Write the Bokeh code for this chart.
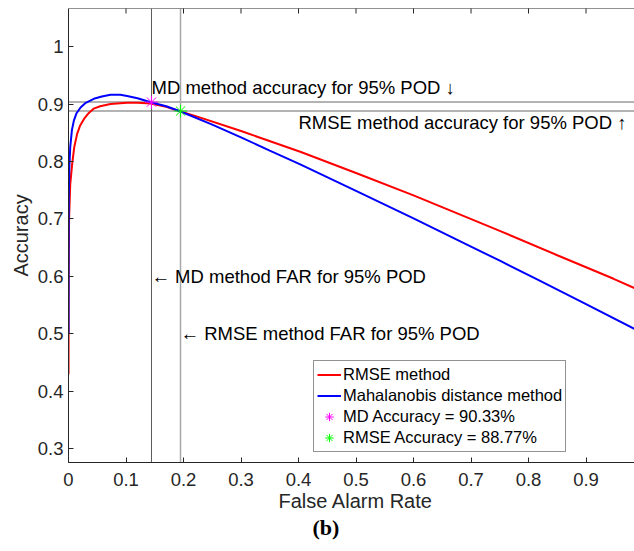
from bokeh.plotting import figure
from bokeh.models import (Range1d, Span, Label, Legend, LegendItem,
                          FixedTicker, CustomJSTickFormatter, Title)
from bokeh.embed import file_html
from bokeh.resources import INLINE
from math import pi

# ---- data ----
far_rmse = [0, 0.0003, 0.001, 0.003, 0.0064, 0.01, 0.015, 0.02, 0.027, 0.035, 0.044,
            0.055, 0.073, 0.09, 0.102, 0.12, 0.143, 0.17, 0.195, 0.224, 0.3, 0.403,
            0.5, 0.6, 0.751, 0.85, 0.948, 0.984]
acc_rmse = [0.43, 0.6, 0.7, 0.76, 0.796, 0.825, 0.848, 0.862, 0.874, 0.884, 0.892,
            0.896, 0.900, 0.9015, 0.902, 0.902, 0.901, 0.895, 0.887, 0.878, 0.853, 0.817,
            0.780, 0.741, 0.679, 0.637, 0.596, 0.580]

far_md = [0, 0.0002, 0.0006, 0.0015, 0.003, 0.006, 0.0093, 0.014, 0.021, 0.03, 0.044,
          0.058, 0.073, 0.09, 0.102, 0.12, 0.143, 0.17, 0.195, 0.25, 0.3, 0.35, 0.403,
          0.5, 0.6, 0.7, 0.751, 0.815, 0.9, 0.984]
acc_md = [0.5, 0.65, 0.74, 0.79, 0.825, 0.855, 0.871, 0.884, 0.894, 0.902, 0.909,
          0.913, 0.916, 0.916, 0.914, 0.910, 0.903, 0.896, 0.887, 0.864, 0.842, 0.819,
          0.795, 0.749, 0.701, 0.652, 0.627, 0.595, 0.552, 0.509]

md_far = [0.1443]
md_acc = [0.9033]
rmse_far = [0.1948]
rmse_acc = [0.8877]

x_ticks = [0, 0.1, 0.2, 0.3, 0.4, 0.5, 0.6, 0.7, 0.8, 0.9]
y_ticks = [0.3, 0.4, 0.5, 0.6, 0.7, 0.8, 0.9, 1.0]

x_label = "False Alarm Rate"
y_label = "Accuracy"
panel_tag = "(b)"
legend_labels = ["RMSE method", "Mahalanobis distance method",
                 "MD Accuracy = 90.33%", "RMSE Accuracy = 88.77%"]

X_MAX = 0.9843
Y_MIN, Y_MAX = 0.2765, 1.0661

FONT = "Liberation Sans"
AX = "#262626"

p = figure(width=634, height=551, x_range=Range1d(0, X_MAX),
           y_range=Range1d(Y_MIN, Y_MAX), output_backend="svg",
           toolbar_location=None, min_border_left=68, min_border_right=0,
           min_border_top=8, min_border_bottom=89)
p.grid.visible = False
p.outline_line_color = None
p.background_fill_color = "white"
p.border_fill_color = "white"

fmt = CustomJSTickFormatter(code="return (Math.round(tick*10)/10).toString();")

for ax in (p.xaxis[0], p.yaxis[0]):
    ax.major_tick_in = 5
    ax.major_tick_out = 0
    ax.minor_tick_line_color = None
    ax.axis_line_color = AX
    ax.major_tick_line_color = AX
    ax.major_label_text_color = AX
    ax.major_label_text_font = FONT
    ax.major_label_text_font_size = "18.5px"
    ax.formatter = fmt

p.xaxis.ticker = FixedTicker(ticks=x_ticks)
p.yaxis.ticker = FixedTicker(ticks=y_ticks)
p.xaxis.major_label_standoff = 10
p.yaxis.major_label_standoff = 5
p.yaxis.axis_label = y_label
p.yaxis.axis_label_text_font = FONT
p.yaxis.axis_label_text_font_size = "20px"
p.yaxis.axis_label_text_font_style = "normal"
p.yaxis.axis_label_text_color = AX
p.yaxis.axis_label_standoff = 3

# top box edge with inward ticks
p.add_layout(Span(location=Y_MAX, dimension="width", line_color=AX, line_width=1))
p.scatter(x_ticks[1:], [Y_MAX] * (len(x_ticks) - 1), marker="dash", angle=pi / 2,
          size=10, line_color=AX, line_width=1)

# reference lines
p.add_layout(Span(location=md_acc[0], dimension="width", line_color="#9a9a9a",
                  line_width=1.5, level="underlay"))
p.add_layout(Span(location=rmse_acc[0], dimension="width", line_color="#9a9a9a",
                  line_width=1.5, level="underlay"))
p.add_layout(Span(location=md_far[0], dimension="height", line_color="#5a5a5a",
                  line_width=1, level="underlay"))
p.add_layout(Span(location=rmse_far[0], dimension="height", line_color="#a8a8a8",
                  line_width=1.5, level="underlay"))

r_rmse = p.line(far_rmse, acc_rmse, line_color="#ff0000", line_width=2)
r_md = p.line(far_md, acc_md, line_color="#0000ff", line_width=2)
s_md = p.scatter(md_far, md_acc, marker="asterisk", size=13, line_color="#ff00ff",
                 line_width=1)
s_rmse = p.scatter(rmse_far, rmse_acc, marker="asterisk", size=13,
                   line_color="#00ff00", line_width=1)

def lab(x, y, t):
    p.add_layout(Label(x=x, y=y, text=t, text_font=FONT, text_font_size="18.5px",
                       text_baseline="middle", text_align="left",
                       text_color="black"))

lab(md_far[0], 0.928, "MD method accuracy for 95% POD \u2193")
lab(0.4, 0.8683, "RMSE method accuracy for 95% POD \u2191")
lab(md_far[0], 0.6, "\u2190 MD method FAR for 95% POD")
lab(rmse_far[0], 0.5, "\u2190 RMSE method FAR for 95% POD")

legend = Legend(items=[LegendItem(label=legend_labels[0], renderers=[r_rmse]),
                       LegendItem(label=legend_labels[1], renderers=[r_md]),
                       LegendItem(label=legend_labels[2], renderers=[s_md]),
                       LegendItem(label=legend_labels[3], renderers=[s_rmse])],
                location=(245, 10), margin=0, padding=3, spacing=0,
                label_height=21, glyph_height=21, glyph_width=24, label_standoff=2,
                label_text_font=FONT, label_text_font_size="16.5px",
                label_text_color="black",
                border_line_color=AX, border_line_width=1,
                background_fill_color="white", background_fill_alpha=1)
p.add_layout(legend)

p.add_layout(Title(text=x_label, align="left", offset=210, text_font=FONT,
                   text_font_size="20px", text_font_style="normal",
                   text_color=AX, standoff=-2), "below")
p.add_layout(Title(text=panel_tag, align="left", offset=244, text_font="Liberation Serif",
                   text_font_size="22px", text_font_style="bold",
                   text_color="black", standoff=5), "below")

open("out.html", "w").write(file_html(p, INLINE))
